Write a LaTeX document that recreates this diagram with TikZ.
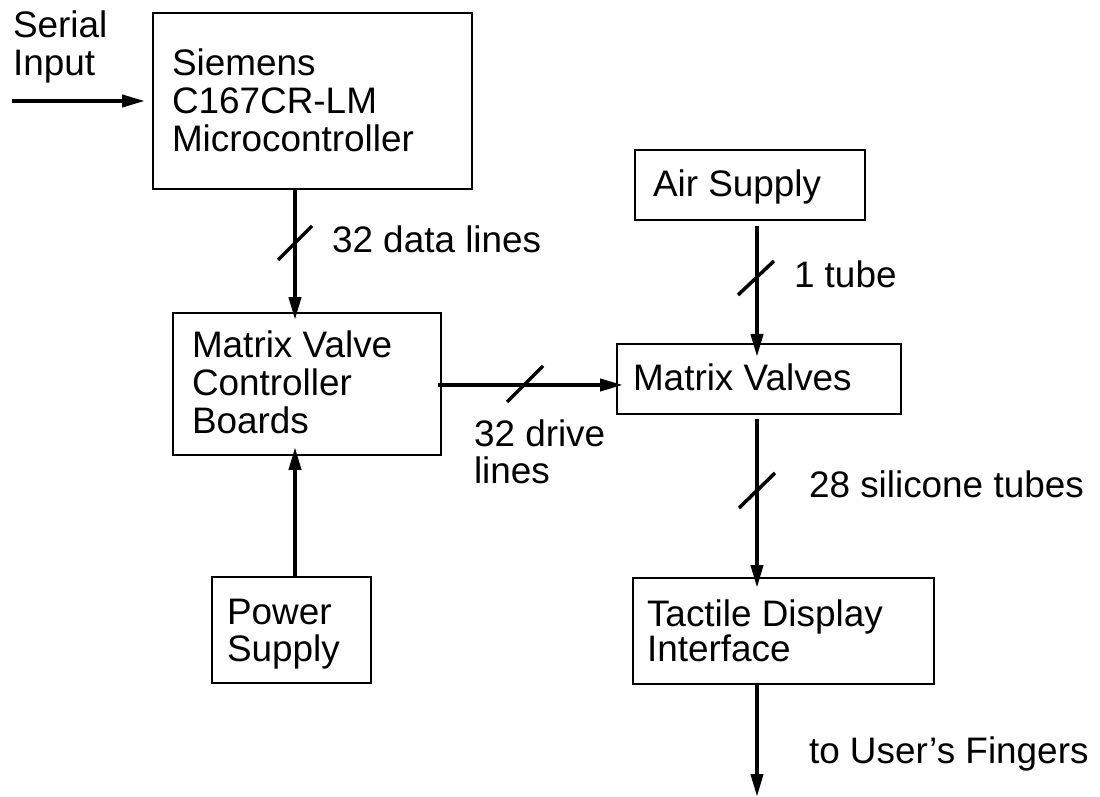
\documentclass[tikz,border=0pt]{standalone}
\usepackage{fontspec}
\setmainfont{Liberation Sans}
\usetikzlibrary{arrows.meta}
\tikzset{
  box/.style={draw, line width=0.75pt, rectangle, inner sep=0pt, outer sep=0pt, anchor=north west},
  txt/.style={anchor=base west, inner sep=0pt, outer sep=0pt, font=\fontsize{21}{25}\selectfont},
  conn/.style={line width=0.08cm, -{Triangle[length=0.46cm,width=0.24cm]}},
  busmark/.style={line width=0.07cm}
}
\begin{document}
\begin{tikzpicture}[x=0.02cm,y=-0.02cm]
\useasboundingbox (0,0) rectangle (1100,797);

% blocks
\node[box, minimum width=6.38cm, minimum height=3.52cm] (mcu) at (153,13) {};
\node[box, minimum width=5.36cm, minimum height=2.84cm] (mvc) at (173,313) {};
\node[box, minimum width=3.18cm, minimum height=2.12cm] (pwr) at (212,577) {};
\node[box, minimum width=4.60cm, minimum height=1.40cm] (air) at (635,150) {};
\node[box, minimum width=5.68cm, minimum height=1.40cm] (mv)  at (617,344) {};
\node[box, minimum width=6.02cm, minimum height=2.12cm] (tdi) at (633,578) {};

% block texts
\node[txt] (mcu1) at (172,76)  {Siemens};
\node[txt] (mcu2) at (172,114) {C167CR-LM};
\node[txt] (mcu3) at (172,152) {Microcontroller};
\node[txt] (mvc1) at (192,358) {Matrix Valve};
\node[txt] (mvc2) at (192,396) {Controller};
\node[txt] (mvc3) at (192,434) {Boards};
\node[txt] (pwr1) at (227,624) {Power};
\node[txt] (pwr2) at (227,662) {Supply};
\node[txt] (air1) at (653,197) {Air Supply};
\node[txt] (mv1)  at (633,391) {Matrix Valves};
\node[txt] (tdi1) at (647,626) {Tactile Display};
\node[txt] (tdi2) at (647,662) {Interface};

% connector labels
\node[txt] (ser1) at (13,38)  {Serial};
\node[txt] (ser2) at (13,76)  {Input};
\node[txt] (lbdata)  at (332,253) {32 data lines};
\node[txt] (lbdrv1)  at (474,447) {32 drive};
\node[txt] (lbdrv2)  at (474,484) {lines};
\node[txt] (lbtube)  at (794,288) {1 tube};
\node[txt] (lbsil)   at (809,498) {28 silicone tubes};
\node[txt] (lbfing)  at (809,763) {to User’s Fingers};

% free ends
\coordinate (serin) at (12,101);
\coordinate (fingers) at (757,797);

% connectors
\draw[conn, shorten >=0.16cm] (serin) -- (serin -| mcu.west);
\draw[conn, shorten >=-0.14cm] (295,0 |- mcu.south) -- (295,0 |- mvc.north);
\draw[conn, shorten >=-0.16cm] (295,0 |- pwr.north) -- (295,0 |- mvc.south);
\draw[conn, shorten <=-0.06cm, shorten >=-0.12cm] (0,385 -| mvc.east) -- (0,385 -| mv.west);
\draw[conn, shorten <=0.12cm, shorten >=-0.26cm] (757,0 |- air.south) -- (757,0 |- mv.north);
\draw[conn, shorten <=0.1cm, shorten >=-0.2cm] (757,0 |- mv.south) -- (757,0 |- tdi.north);
\draw[conn] (757,0 |- tdi.south) -- (fingers);

% bus width marks
\draw[busmark] (278,260) -- (312,226);
\draw[busmark] (507,402) -- (543,366);
\draw[busmark] (738,295) -- (774,261);
\draw[busmark] (739,508) -- (775,473);
\end{tikzpicture}
\end{document}
